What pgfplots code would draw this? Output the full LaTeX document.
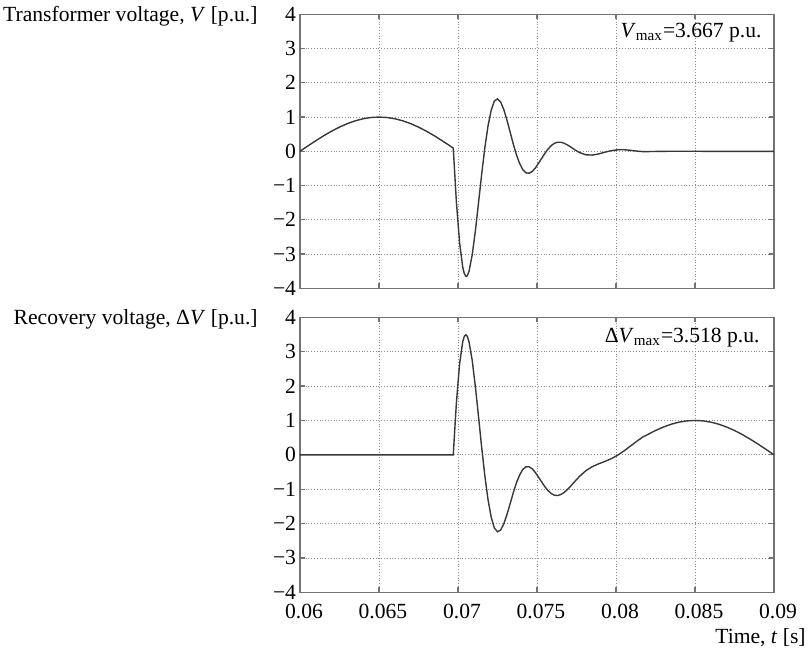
\documentclass[border=0pt]{standalone}
\usepackage{fontspec}
\setmainfont{Liberation Serif}
\usepackage{pgfplots}
\pgfplotsset{compat=1.18}
\tikzset{lab/.style={anchor=base east, inner sep=0pt}}
\pgfplotsset{
 myax/.style={
  scale only axis, width=237pt,
  xmin=0.06, xmax=0.09, ymin=-4, ymax=4,
  clip mode=individual,
  scaled x ticks=false, scaled y ticks=false,
  /pgf/number format/assume math mode=true,
  xtick={0.06,0.065,0.07,0.075,0.08,0.085,0.09},
  ytick={-4,-3,-2,-1,0,1,2,3,4},
  yticklabels={\textrm{−4},\textrm{−3},\textrm{−2},\textrm{−1},\textrm{0},\textrm{1},\textrm{2},\textrm{3},\textrm{4}},
  grid=major,
  major grid style={densely dotted, black!45, line width=0.4pt},
  axis line style={black!55, line width=0.6pt},
  every tick/.style={black!55, line width=0.6pt},
  major tick length=2.5pt,
  tick align=inside, tick pos=both,
  yticklabel style={xshift=1.8pt},
  xticklabel style={xshift=2pt, yshift=-2pt},
 },
 curve/.style={no marks, line width=0.7pt, black!78},
}
\begin{document}
\fontsize{10.8}{13}\selectfont
\begin{tikzpicture}
\path (-150pt,7pt) rectangle (254pt,-318pt);
\begin{axis}[myax, name=top, at={(0,0)}, anchor=north west, height=137pt, xticklabels={}]
\addplot[curve] coordinates {
(0.06,0) (0.0605,0.1564) (0.061,0.3090) (0.0615,0.4540) (0.062,0.5878) (0.0625,0.7071)
(0.063,0.8090) (0.0635,0.8910) (0.064,0.9511) (0.0645,0.9877) (0.065,1) (0.0655,0.9877)
(0.066,0.9511) (0.0665,0.8910) (0.067,0.8090) (0.0675,0.7071) (0.068,0.5878) (0.0685,0.4540)
(0.069,0.3090) (0.0695,0.1564) (0.0697,0.094)
(0.0699,-1.490) (0.0701,-2.668) (0.0703,-3.387) (0.0704,-3.572) (0.0705,-3.647) (0.07055,-3.645)
(0.0706,-3.620) (0.0707,-3.499) (0.0709,-3.024)
(0.0711,-2.323) (0.0713,-1.502) (0.0715,-0.665) (0.0717,0.106) (0.0719,0.741) (0.0721,1.199)
(0.0723,1.467) (0.0725,1.531) (0.0727,1.438) (0.0729,1.219) (0.0731,0.910) (0.0733,0.562)
(0.0735,0.210) (0.0737,-0.103) (0.0739,-0.354) (0.0741,-0.534) (0.0743,-0.627) (0.0745,-0.640)
(0.0747,-0.588) (0.0749,-0.484) (0.0751,-0.347) (0.0753,-0.204) (0.0755,-0.059) (0.0757,0.066)
(0.0759,0.166) (0.0761,0.233) (0.0763,0.266) (0.0765,0.266) (0.0767,0.240) (0.0769,0.194)
(0.0771,0.136) (0.0773,0.073) (0.0775,0.014) (0.0777,-0.0375) (0.0781,-0.102) (0.0785,-0.110)
(0.0789,-0.077) (0.0793,-0.026) (0.0797,0.019) (0.0801,0.044) (0.0805,0.046) (0.0809,0.030)
(0.0813,0.008) (0.0817,-0.010) (0.0825,-0.004) (0.0835,0.002) (0.085,0.001) (0.087,-0.002) (0.09,0)
};
\node[lab] at (rel axis cs:0,1) [xshift=-21pt, yshift=-3.4pt] {Transformer voltage, \textit{V} [p.u.]};
\node[lab] at (rel axis cs:1,1) [xshift=-6pt, yshift=-11.5pt] {\textit{V}\textsubscript{max}=3.667 p.u.};
\end{axis}
\begin{axis}[myax, name=bot, at={(0,-151.5pt)}, anchor=north west, height=137.5pt,
  xticklabels={\textrm{0.06},\textrm{0.065},\textrm{0.07},\textrm{0.075},\textrm{0.08},\textrm{0.085},\textrm{0.09}}]
\addplot[curve] coordinates {
(0.06,0) (0.0697,0)
(0.0699,1.521) (0.0701,2.637) (0.0703,3.293) (0.0704,3.447) (0.0705,3.491) (0.07055,3.473)
(0.0706,3.433) (0.0707,3.281) (0.0709,2.745)
(0.0711,1.984) (0.0713,1.105) (0.0715,0.211) (0.0717,-0.615) (0.0719,-1.303) (0.0721,-1.812)
(0.0723,-2.128) (0.0725,-2.238) (0.0727,-2.188) (0.0729,-2.009) (0.0731,-1.737) (0.0733,-1.423)
(0.0735,-1.101) (0.0737,-0.815) (0.0739,-0.587) (0.0741,-0.426) (0.0743,-0.349) (0.0745,-0.348)
(0.0747,-0.408) (0.0749,-0.516) (0.0751,-0.653) (0.0753,-0.792) (0.0755,-0.929) (0.0757,-1.042)
(0.0759,-1.126) (0.0761,-1.174) (0.0763,-1.184) (0.0765,-1.157) (0.0767,-1.101) (0.0769,-1.021)
(0.0771,-0.926) (0.0773,-0.823) (0.0775,-0.721) (0.0777,-0.624) (0.0781,-0.460) (0.0785,-0.344)
(0.0789,-0.262) (0.0793,-0.192) (0.0797,-0.113) (0.0801,-0.013) (0.0805,0.110) (0.0809,0.249)
(0.0813,0.389) (0.0817,0.519) (0.082,0.5878) (0.0825,0.7071) (0.083,0.8090) (0.0835,0.8910)
(0.084,0.9511) (0.0845,0.9877) (0.085,1) (0.0855,0.9877) (0.086,0.9511) (0.0865,0.8910)
(0.087,0.8090) (0.0875,0.7071) (0.088,0.5878) (0.0885,0.4540) (0.089,0.3090) (0.0895,0.1564) (0.09,0)
};
\node[lab] at (rel axis cs:0,1) [xshift=-21pt, yshift=-3.4pt] {Recovery voltage, Δ\textit{V} [p.u.]};
\node[lab] at (rel axis cs:1,1) [xshift=-7pt, yshift=-12.5pt] {Δ\textit{V}\textsubscript{max}=3.518 p.u.};
\node[lab] at (rel axis cs:1,0) [xshift=16pt, yshift=-25.5pt] {Time, \textit{t} [s]};
\end{axis}
\end{tikzpicture}
\end{document}
